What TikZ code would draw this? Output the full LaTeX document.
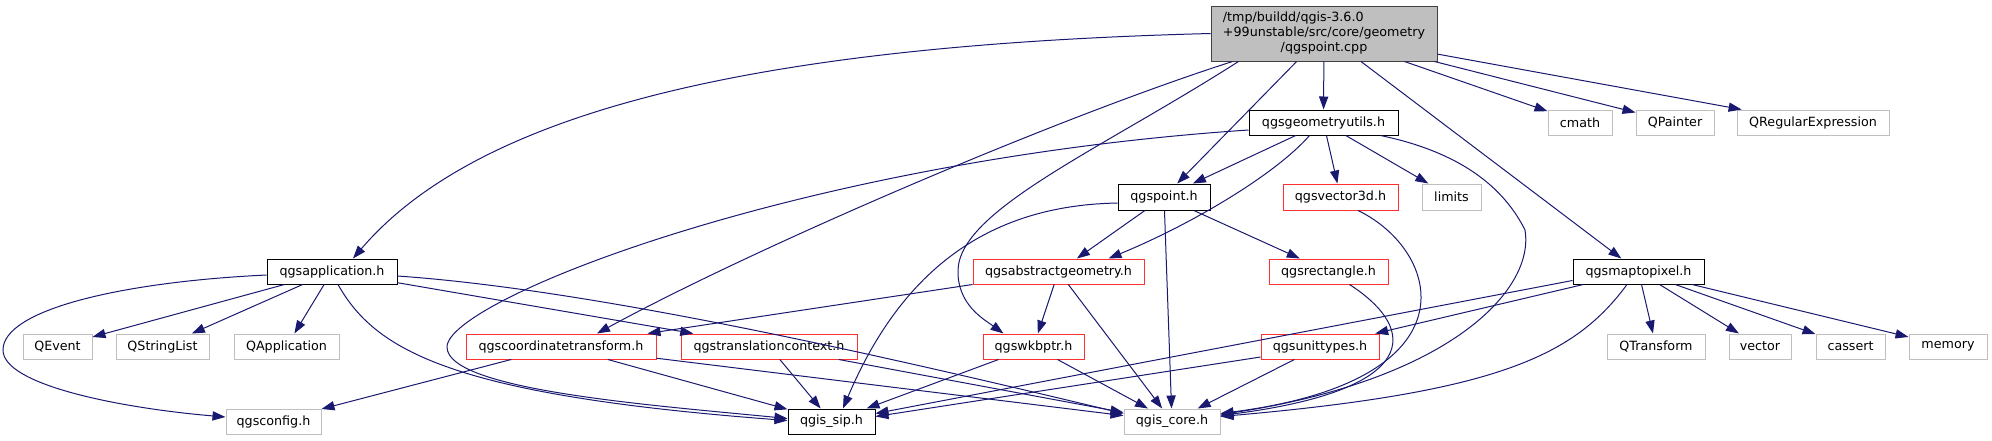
\documentclass[tikz,border=0pt]{standalone}
\usepackage{fontspec}
\setmainfont{DejaVu Sans}
\usepackage{xcolor}
\usetikzlibrary{arrows.meta}
\definecolor{edgeblue}{HTML}{191970}
\definecolor{extgray}{HTML}{BFBFBF}
\definecolor{rootedge}{HTML}{404040}
\definecolor{truncred}{HTML}{FF3030}

\begin{document}
\begin{tikzpicture}[
    x=0.5pt, y=-0.5pt,
    font=\fontsize{6.35pt}{7.4pt}\selectfont,
    every node/.style={inner sep=0pt, minimum height=12.5pt, line width=0.5pt},
    box/.style={draw=black, fill=white},
    redbox/.style={draw=truncred, fill=white},
    extbox/.style={draw=extgray, fill=white},
    rootbox/.style={draw=rootedge, fill=extgray, minimum height=27.5pt},
    arrow/.style={draw=edgeblue, line width=0.5pt, -{Triangle[length=6.5pt,width=4.6pt]}}
]
\useasboundingbox (0,0) rectangle (1992,440);

\node (cpp) [rootbox, minimum width=113pt] at (1324,33.5) {\begin{tabular}{@{}l@{}}/tmp/buildd/qgis-3.6.0\\+99unstable/src/core/geometry\\\multicolumn{1}{@{}c@{}}{/qgspoint.cpp}\end{tabular}};
\node (utils) [box, minimum width=74.5pt] at (1323.5,122.5) {qgsgeometryutils.h};
\node (cmath) [extbox, minimum width=32pt] at (1580,122.5) {cmath};
\node (painter) [extbox, minimum width=39pt] at (1675,122.5) {QPainter};
\node (regexp) [extbox, minimum width=76pt] at (1813,122.5) {QRegularExpression};
\node (point) [box, minimum width=46pt, minimum height=13pt] at (1164,197) {qgspoint.h};
\node (vec3d) [redbox, minimum width=57.5pt, minimum height=13pt] at (1340.5,197) {qgsvector3d.h};
\node (limits) [extbox, minimum width=29.5pt, minimum height=13pt] at (1451.5,197) {limits};
\node (app) [box, minimum width=65pt] at (332,271.5) {qgsapplication.h};
\node (absgeom) [redbox, minimum width=85.5pt] at (1058.5,271.5) {qgsabstractgeometry.h};
\node (rect) [redbox, minimum width=59.5pt] at (1328.5,271.5) {qgsrectangle.h};
\node (m2p) [box, minimum width=65.5pt] at (1638.5,271.5) {qgsmaptopixel.h};
\node (qevent) [extbox, minimum width=34.5pt] at (57.5,346.5) {QEvent};
\node (strlist) [extbox, minimum width=46.5pt] at (162.5,346.5) {QStringList};
\node (qapp) [extbox, minimum width=52.5pt] at (286.5,346.5) {QApplication};
\node (ct) [redbox, minimum width=95pt] at (561,346.5) {qgscoordinatetransform.h};
\node (trctx) [redbox, minimum width=88pt] at (769,346.5) {qgstranslationcontext.h};
\node (wkb) [redbox, minimum width=50.5pt] at (1033.5,346.5) {qgswkbptr.h};
\node (units) [redbox, minimum width=59pt] at (1320,346.5) {qgsunittypes.h};
\node (qtrans) [extbox, minimum width=49pt] at (1656,346.5) {QTransform};
\node (vector) [extbox, minimum width=31pt] at (1760,346.5) {vector};
\node (cassert) [extbox, minimum width=34.5pt] at (1850.5,346.5) {cassert};
\node (memory) [extbox, minimum width=39pt] at (1948,346.5) {memory};
\node (config) [extbox, minimum width=47.5pt] at (273.5,421.5) {qgsconfig.h};
\node (sip) [box, minimum width=43.5pt] at (831.5,421.5) {qgis\_sip.h};
\node (core) [extbox, minimum width=48pt] at (1172,421.5) {qgis\_core.h};

\draw [arrow] (cpp.west) .. controls (760,45) and (480,110) .. ([xshift=10.5pt]app.north);
\draw [arrow] ([xshift=11pt]cpp.south west) .. controls (1050,120) and (750,250) .. ([xshift=18pt]ct.north);
\draw [arrow] ([xshift=14pt]cpp.south west) .. controls (1100,150) and (960,210) .. (958,270) .. controls (957,305) and (985,320) .. ([xshift=-15pt]wkb.north);
\draw [arrow] (cpp) -- (point);
\draw [arrow] (cpp) -- (utils);
\draw [arrow] (cpp) -- (m2p);
\draw [arrow] (cpp) -- (cmath);
\draw [arrow] (cpp) -- (painter);
\draw [arrow] (cpp) -- (regexp);

\draw [arrow] (utils) -- (point);
\draw [arrow] (utils) -- (vec3d);
\draw [arrow] (utils) -- (limits);
\draw [arrow] ([xshift=-7pt]utils.south) .. controls (1275,175) and (1190,225) .. ([xshift=25pt]absgeom.north);
\draw [arrow] ([yshift=-3.75pt]utils.west) .. controls (800,160) and (447,300) .. (447,347) .. controls (447,390) and (650,405) .. ([yshift=1.5pt]sip.west);
\draw [arrow] ([xshift=-9pt]utils.south east) .. controls (1450,150) and (1500,180) .. (1525,230) .. controls (1535,290) and (1450,380) .. ([yshift=3.5pt]core.east);

\draw [arrow] (point) -- (absgeom);
\draw [arrow] (point) -- (rect);
\draw [arrow] (point) -- (core);
\draw [arrow] ([yshift=-3pt]point.west) .. controls (1010,205) and (910,250) .. ([xshift=5.75pt]sip.north);

\draw [arrow] ([xshift=8.75pt]vec3d.south) .. controls (1440,250) and (1480,380) .. ([yshift=4pt]core.east);
\draw [arrow] ([xshift=10.5pt]rect.south) .. controls (1420,330) and (1420,390) .. ([yshift=3pt]core.east);

\draw [arrow] (absgeom.south west) -- ([xshift=-4.5pt]ct.north east);
\draw [arrow] (absgeom) -- (wkb);
\draw [arrow] (absgeom) -- (core);

\draw [arrow] (m2p) -- (qtrans);
\draw [arrow] (m2p) -- (vector);
\draw [arrow] (m2p) -- (cassert);
\draw [arrow] (m2p) -- (memory);
\draw [arrow] (m2p) -- (units);
\draw [arrow] ([yshift=-4.5pt]m2p.west) -- ([yshift=4pt]sip.east);
\draw [arrow] ([xshift=-5.75pt]m2p.south) .. controls (1575,355) and (1500,392) .. ([yshift=2.5pt]core.east);

\draw [arrow] (units) -- (core);
\draw [arrow] ([yshift=-5.25pt]units.west) -- ([yshift=2.5pt]sip.east);

\draw [arrow] (wkb) -- (core);
\draw [arrow] (wkb) -- (sip);

\draw [arrow] (trctx) -- (sip);
\draw [arrow] (trctx) -- (core);

\draw [arrow] (ct) -- (config);
\draw [arrow] (ct) -- (sip);
\draw [arrow] (ct) -- (core);

\draw [arrow] (app) -- (qevent);
\draw [arrow] (app) -- (strlist);
\draw [arrow] (app) -- (qapp);
\draw [arrow] ([yshift=-1.75pt]app.west) .. controls (120,282) and (3,310) .. (3,350) .. controls (3,385) and (120,408) .. ([yshift=2.25pt]config.west);
\draw [arrow] ([xshift=3pt]app.south) .. controls (375,350) and (450,395) .. ([yshift=0.5pt]sip.west);
\draw [arrow] ([yshift=-2.25pt]app.east) .. controls (600,290) and (900,360) .. ([yshift=4pt]core.west);
\draw [arrow] (app) -- (trctx);
\end{tikzpicture}
\end{document}
